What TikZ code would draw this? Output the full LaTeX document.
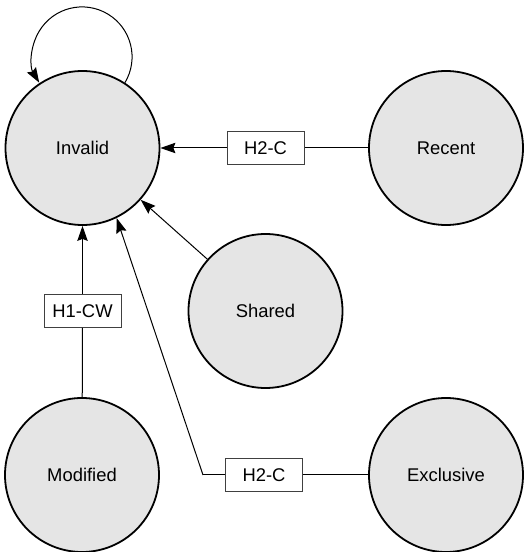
\documentclass[tikz,border=0pt]{standalone}
\usepackage{fontspec}
\setmainfont{Liberation Sans}
\usetikzlibrary{arrows.meta}
\begin{document}
\begin{tikzpicture}[x=0.5pt, y=0.5pt,
    font=\fontsize{9.2pt}{11pt}\selectfont,
    state/.style={circle, draw, line width=0.9pt, fill=black!10, minimum size=77pt, inner sep=0pt},
    tag/.style={rectangle, draw=black!75, line width=0.5pt, fill=white, minimum width=38.5pt, minimum height=16.5pt, inner sep=0pt},
    edge/.style={line width=0.5pt},
    >={Stealth[length=7.5pt, width=5.2pt, inset=1pt]}]
  \useasboundingbox (0, 0) rectangle (526, 552);
  \node[state] (Invalid) at (82.5, 404) {Invalid};
  \node[state] (Recent) at (446, 404) {Recent};
  \node[state] (Shared) at (265.5, 241) {Shared};
  \node[state] (Modified) at (82, 77) {Modified};
  \node[state] (Exclusive) at (446, 77) {Exclusive};
  \node[tag] (lblRecent) at (265.5, 404) {H2-C};
  \node[tag] (lblModified) at (82.5, 241) {H1-CW};
  \node[tag] (lblExclusive) at (264, 77) {H2-C};
  \coordinate (bend) at (203, 77);
  \draw[edge, ->] (Invalid.57) arc[start angle=-31, end angle=211, radius=25pt];
  \draw[edge] (Recent) -- (lblRecent);
  \draw[edge, ->] (lblRecent) -- (Invalid);
  \draw[edge, ->] (Shared) -- (Invalid);
  \draw[edge] (Modified) -- (lblModified);
  \draw[edge, ->] (lblModified) -- (Invalid);
  \draw[edge] (Exclusive) -- (lblExclusive) -- (bend);
  \draw[edge, ->] (bend) -- (Invalid.-64);
\end{tikzpicture}
\end{document}
